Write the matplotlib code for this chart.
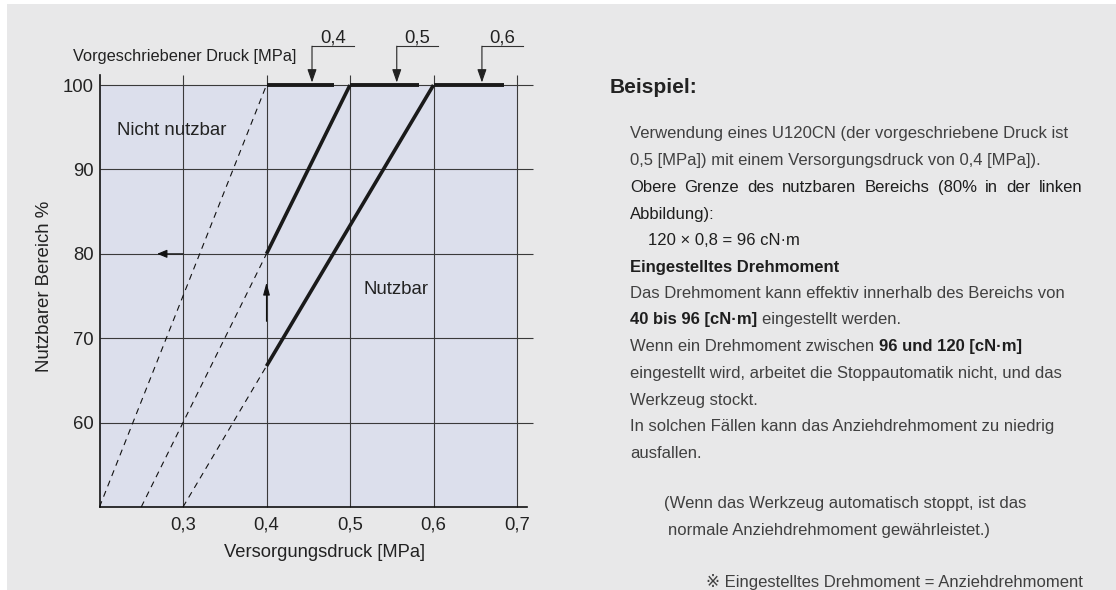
import matplotlib
matplotlib.use('Agg')
import matplotlib.pyplot as plt
from matplotlib.patches import Rectangle

plt.rcParams['font.family'] = ['Liberation Sans', 'DejaVu Sans']

W, H, DPI = 1116, 590, 100

# ---------------- data ----------------
x_ticks = [0.3, 0.4, 0.5, 0.6, 0.7]
x_tick_labels = ['0,3', '0,4', '0,5', '0,6', '0,7']
y_ticks = [60, 70, 80, 90, 100]
y_tick_labels = ['60', '70', '80', '90', '100']

prescribed_labels = ['0,4', '0,5', '0,6']
bar_start = [0.4, 0.5, 0.6]
bar_end = [0.481, 0.583, 0.684]
bar_level = 100

callout_x = [0.4545, 0.556, 0.658]
callout_end = [0.5047, 0.605, 0.707]
callout_level = 104.6

solid_05_x = [0.4, 0.5]
solid_05_y = [80, 100]
solid_06_x = [0.4, 0.6]
solid_06_y = [66.7, 100]

dashed_04_x = [0.2, 0.4]
dashed_04_y = [50, 100]
dashed_05_x = [0.25, 0.4]
dashed_05_y = [50, 80]
dashed_06_x = [0.3, 0.4]
dashed_06_y = [50, 66.7]

arrow_up_x = 0.4
arrow_up_tip = 76.6
arrow_left_y = 80
arrow_left_tip = 0.269

# ---------------- figure ----------------
fig = plt.figure(figsize=(W / DPI, H / DPI), dpi=DPI, facecolor='white')
fig.patches.append(Rectangle((7 / W, 0), 1 - 7 / W, 1 - 4 / H, transform=fig.transFigure,
                             facecolor='#e8e8e9', edgecolor='none', zorder=-10))


def fx(x):
    return x / W


def fy(y):
    return 1 - y / H


ax = fig.add_axes([99.5 / W, 1 - 507 / H, (533.7 - 99.5) / W, (507 - 74.9) / H])
ax.set_zorder(5)
ax.set_facecolor('none')
ax.set_xlim(0.2, 0.72)
ax.set_ylim(50, 101.2)

ax.fill_between([0.2, 0.7], 50, 100, color='#dcdfec', zorder=0, lw=0)

grid_c = '#3a3a3a'
ax.vlines(x_ticks, 50, 101.2, colors=grid_c, lw=0.8, zorder=1, clip_on=False)
ax.hlines(y_ticks, 0.2, 0.719, colors=grid_c, lw=0.8, zorder=1, clip_on=False)

for s in ['top', 'right']:
    ax.spines[s].set_visible(False)
ax.spines['left'].set_bounds(50, 101.2)
ax.spines['bottom'].set_bounds(0.2, 0.712)
for s in ['left', 'bottom']:
    ax.spines[s].set_color('#111111')
    ax.spines[s].set_linewidth(1.2)

ax.set_xticks(x_ticks)
ax.set_xticklabels(x_tick_labels)
ax.set_yticks(y_ticks)
ax.set_yticklabels(y_tick_labels)
ax.tick_params(axis='both', length=0, labelsize=13.3, labelcolor='#222222')
ax.tick_params(axis='x', pad=7)
ax.tick_params(axis='y', pad=4)

# dashed extensions
dash_kw = dict(color='#111111', lw=0.8, linestyle=(0, (5.5, 4.5)), zorder=3, clip_on=False)
ax.plot(dashed_04_x, dashed_04_y, **dash_kw)
ax.plot(dashed_05_x, dashed_05_y, **dash_kw)
ax.plot(dashed_06_x, dashed_06_y, **dash_kw)

# solid usable lines
solid_kw = dict(color='#1a1a1a', lw=2.6, zorder=4, solid_capstyle='butt', clip_on=False)
ax.plot(solid_05_x, solid_05_y, **solid_kw)
ax.plot(solid_06_x, solid_06_y, **solid_kw)
ax.hlines([bar_level] * 3, bar_start, bar_end, colors='#1a1a1a', lw=2.8, zorder=4, clip_on=False)

# callouts for prescribed pressure
for cx, ce, lab in zip(callout_x, callout_end, prescribed_labels):
    ax.plot([cx, ce], [callout_level, callout_level], color='#333333', lw=0.8, clip_on=False, zorder=5)
    ax.annotate('', xy=(cx, bar_level + 0.3), xytext=(cx, callout_level), annotation_clip=False,
                arrowprops=dict(arrowstyle='-|>,head_length=0.8,head_width=0.28', mutation_scale=10,
                                color='#222222', lw=0.8, shrinkA=0, shrinkB=0), zorder=5)
    ax.text((cx + ce) / 2, callout_level + 0.4, lab, ha='center', va='baseline', fontsize=13.3,
            color='#222222', clip_on=False)

# example arrows
ax.annotate('', xy=(arrow_up_x, arrow_up_tip), xytext=(arrow_up_x, 72), annotation_clip=False,
            arrowprops=dict(arrowstyle='-|>,head_length=1.0,head_width=0.27', mutation_scale=7.5,
                            color='#111111', lw=0.8, shrinkA=0, shrinkB=0), zorder=5)
ax.annotate('', xy=(arrow_left_tip, arrow_left_y), xytext=(0.30, arrow_left_y), annotation_clip=False,
            arrowprops=dict(arrowstyle='-|>,head_length=0.8,head_width=0.33', mutation_scale=7.5,
                            color='#111111', lw=0.8, shrinkA=0, shrinkB=0), zorder=5)

# region labels
ax.text(0.221, 94.08, 'Nicht nutzbar', ha='left', va='baseline', fontsize=13.4, color='#222222')
ax.text(0.5156, 75.27, 'Nutzbar', ha='left', va='baseline', fontsize=13.4, color='#222222')

# axis labels
fig.text(fx(73), fy(61), 'Vorgeschriebener Druck [MPa]', ha='left', va='baseline', fontsize=11.8,
         color='#222222')
fig.text(fx(324), fy(557), 'Versorgungsdruck [MPa]', ha='center', va='baseline', fontsize=13.2,
         color='#222222')
fig.text(fx(45), fy(286), 'Nutzbarer Bereich %', ha='center', va='center', rotation=90,
         fontsize=13.4, color='#222222')

# ---------------- right text ----------------
renderer = fig.canvas.get_renderer()

ref_line = 'Verwendung eines U120CN (der vorgeschriebene Druck ist'
probe = fig.text(0, 0, ref_line, fontsize=10)
w10 = probe.get_window_extent(renderer).width
probe.remove()
body_fs = 10 * 438 / w10
space_px = 0.278 * body_fs * DPI / 72

fig.text(fx(610), fy(93), 'Beispiel:', ha='left', va='baseline', fontsize=15, fontweight='bold',
         color='#222222')

light = '#404040'
dark = '#1e1e1e'


def runs(x, y, parts):
    cur = x
    for txt, weight, col in parts:
        t = fig.text(fx(cur), fy(y), txt, ha='left', va='baseline', fontsize=body_fs,
                     fontweight=weight, color=col)
        cur += t.get_window_extent(renderer).width + space_px


def justified(x, y, text, right, col):
    words = text.split(' ')
    arts = [fig.text(0, fy(y), w, ha='left', va='baseline', fontsize=body_fs, color=col) for w in words]
    widths = [a.get_window_extent(renderer).width for a in arts]
    gap = (right - x - sum(widths)) / (len(words) - 1)
    cur = x
    for a, w in zip(arts, widths):
        a.set_x(fx(cur))
        cur += w + gap


runs(630, 138, [('Verwendung eines U120CN (der vorgeschriebene Druck ist', 'normal', light)])
runs(630, 165, [('0,5 [MPa]) mit einem Versorgungsdruck von 0,4 [MPa]).', 'normal', light)])
justified(630, 192, 'Obere Grenze des nutzbaren Bereichs (80% in der linken', 1082, dark)
runs(630, 219, [('Abbildung):', 'normal', dark)])
runs(648, 245, [('120 × 0,8 = 96 cN·m', 'normal', dark)])
runs(630, 272, [('Eingestelltes Drehmoment', 'bold', dark)])
runs(630, 298, [('Das Drehmoment kann effektiv innerhalb des Bereichs von', 'normal', light)])
runs(630, 324, [('40 bis 96 [cN·m]', 'bold', dark), ('eingestellt werden.', 'normal', light)])
runs(630, 351, [('Wenn ein Drehmoment zwischen', 'normal', light), ('96 und 120 [cN·m]', 'bold', dark)])
runs(630, 378, [('eingestellt wird, arbeitet die Stoppautomatik nicht, und das', 'normal', light)])
runs(630, 405, [('Werkzeug stockt.', 'normal', light)])
runs(630, 431, [('In solchen Fällen kann das Anziehdrehmoment zu niedrig', 'normal', light)])
runs(630, 458, [('ausfallen.', 'normal', light)])
runs(664, 508, [('(Wenn das Werkzeug automatisch stoppt, ist das', 'normal', light)])
runs(668, 535, [('normale Anziehdrehmoment gewährleistet.)', 'normal', light)])
runs(706, 587, [('※ Eingestelltes Drehmoment = Anziehdrehmoment', 'normal', light)])

fig.savefig('out.png', dpi=DPI, facecolor='white')
